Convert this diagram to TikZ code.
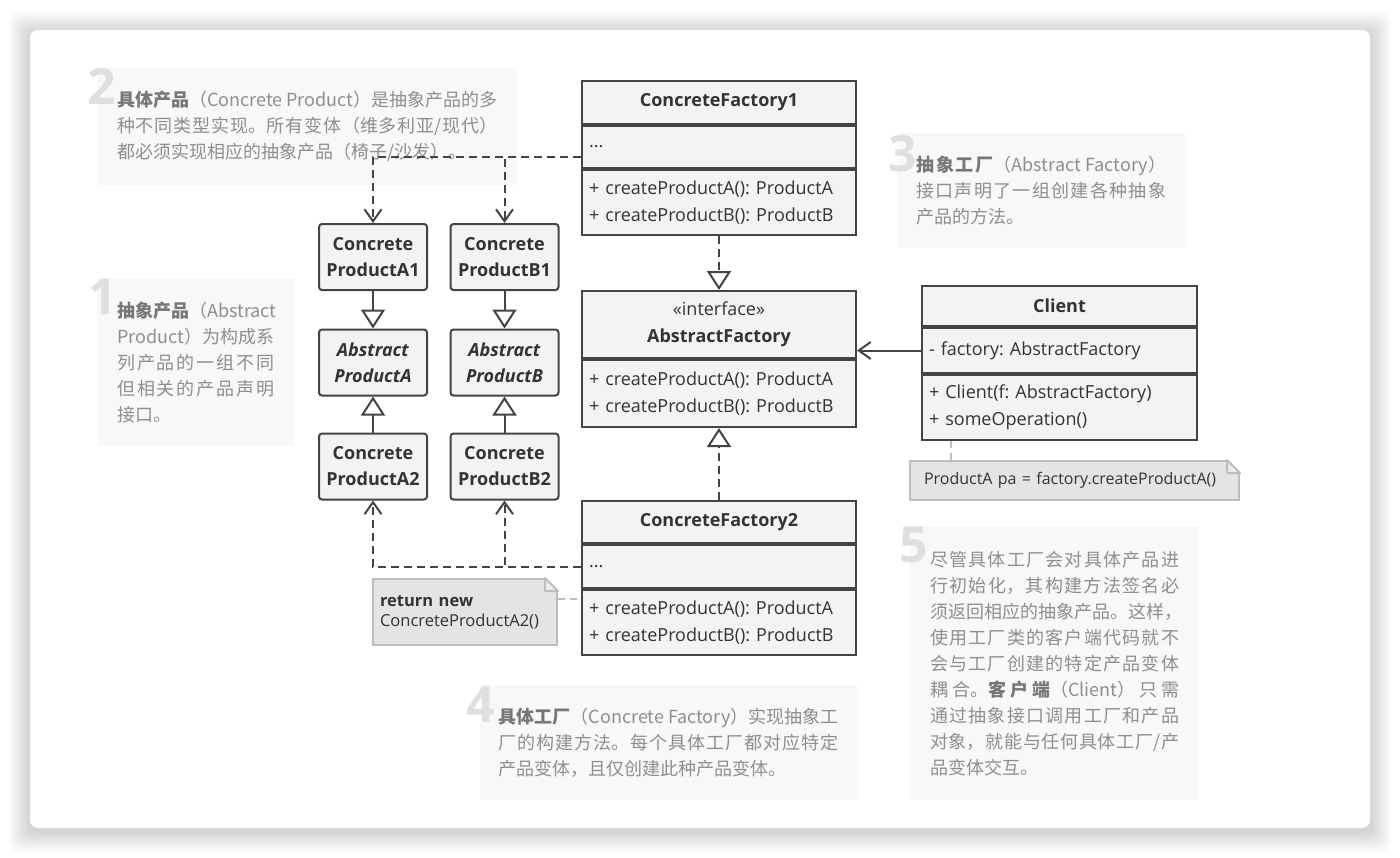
\documentclass[tikz,border=0pt]{standalone}
\usepackage{fontspec}
\setmainfont{Open Sans}
\newfontfamily\cjk{Noto Sans CJK SC}
\usetikzlibrary{positioning,arrows.meta}
\XeTeXlinebreaklocale "zh"
\XeTeXlinebreakskip=0pt plus 6pt
\XeTeXlinebreakpenalty=10000
\setlength{\parindent}{0pt}
\frenchspacing
\tolerance=10000 \hbadness=10000 \hfuzz=40pt \hyphenpenalty=10000
\definecolor{boxline}{HTML}{444444}
\definecolor{boxfill}{HTML}{F3F3F3}
\definecolor{boxtext}{HTML}{333333}
\definecolor{annofill}{HTML}{F8F8F8}
\definecolor{annotext}{HTML}{8E8E8E}
\definecolor{annolead}{HTML}{777777}
\definecolor{numgray}{HTML}{DFDFDF}
\definecolor{notefill}{HTML}{E4E4E4}
\definecolor{noteline}{HTML}{BDBDBD}
\tikzset{
  sec/.style={draw=boxline,fill=boxfill,line width=2pt,minimum width=274pt,text width=260pt,
    inner xsep=7pt,inner ysep=0pt,align=left,text=boxtext,font=\fontsize{18}{26.5}\selectfont},
  hdr/.style={sec,align=center,font=\fontsize{18}{27}\selectfont\bfseries},
  prod/.style={draw=boxline,fill=boxfill,line width=2pt,rounded corners=3pt,minimum width=108pt,
    minimum height=66pt,inner sep=0pt,align=center,text=boxtext,font=\fontsize{18}{26}\selectfont\bfseries},
  depend/.style={draw=boxline,line width=2pt,dash pattern=on 8pt off 5pt,-{Straight Barb[length=12pt,width=17pt]}},
  realize/.style={draw=boxline,line width=2pt,dash pattern=on 8pt off 5pt,-{Triangle[length=19pt,width=24pt,fill=white]}},
  inherit/.style={draw=boxline,line width=2pt,-{Triangle[length=19pt,width=24pt,fill=white]}},
  assoc/.style={draw=boxline,line width=2pt,-{Straight Barb[length=12pt,width=17pt]}},
  notelink/.style={draw=noteline,line width=2pt,dash pattern=on 7pt off 5pt},
  note/.style={anchor=north west,fill=notefill,draw=noteline,line width=2pt,align=left,inner ysep=0pt,
    text=boxtext,font=\fontsize{16.5}{20}\selectfont},
  notebox/.style={fill=notefill!70!white,draw=noteline,line width=2pt,line join=round},
  anno/.style={anchor=north west,fill=annofill,inner ysep=0pt,align=justify,text=annotext,
    font=\cjk\fontsize{18}{26}\selectfont},
  num/.style={anchor=north west,inner sep=0pt,text=numgray,font=\fontsize{50}{50}\selectfont\bfseries}
}
\newcommand{\lead}[1]{\textcolor{annolead}{\textbf{#1}}}
\newcommand{\fold}[1]{%
  \fill[white] ([xshift=-15pt,yshift=2pt]#1.north east) -- ([xshift=2pt,yshift=2pt]#1.north east)
    -- ([xshift=2pt,yshift=-15pt]#1.north east) -- cycle;
  \draw[notebox] ([xshift=-13pt]#1.north east) -- ([yshift=-13pt]#1.north east)
    -- ([xshift=-13pt,yshift=-13pt]#1.north east) -- cycle;}

\begin{document}
\begin{tikzpicture}[x=1pt,y=-1pt]
\useasboundingbox (0,0) rectangle (1400,857);
% ---- CARD ----
\fill[white] (0,0) rectangle (1400,857);
\foreach \i in {1,...,22}
  \fill[black,opacity=0.007,rounded corners=10pt] (30-\i,30-\i+3) rectangle (1370+\i,828+\i+3);
\fill[white,draw=black!6,rounded corners=8pt] (30,30) rectangle (1370,828);

% ---- ANNOTATIONS ----
\node[anno,text width=380pt,inner xsep=20pt,minimum height=117pt] (t2) at (97,68)
  {\lead{具体产品}（Concrete Product）是抽象产品的多\linebreak 种不同类型实现。所有变体（维多利亚/现代）\linebreak 都必须实现相应的抽象产品（椅子/沙发）。};
\node[anno,text width=157pt,inner xsep=20pt,minimum height=168pt] (t1) at (97,278)
  {\lead{抽象产品}（Abstract\linebreak Product）为构成系\linebreak 列产品的一组不同\linebreak 但相关的产品声明\linebreak 接口。};
\node[anno,text width=250pt,inner xsep=19pt,minimum height=115pt] (t3) at (897,133)
  {\lead{抽象工厂}（Abstract Factory）\linebreak 接口声明了一组创建各种抽象\linebreak 产品的方法。};
\node[anno,text width=340pt,inner xsep=18.5pt,minimum height=115pt] (t4) at (480,685)
  {\lead{具体工厂}（Concrete Factory）实现抽象工\linebreak 厂的构建方法。每个具体工厂都对应特定\linebreak 产品变体，且仅创建此种产品变体。};
\node[anno,text width=249pt,inner xsep=20pt,minimum height=274pt] (t5) at (910,526)
  {尽管具体工厂会对具体产品进\linebreak 行初始化，其构建方法签名必\linebreak 须返回相应的抽象产品。这样，\linebreak 使用工厂类的客户端代码就不\linebreak 会与工厂创建的特定产品变体\linebreak 耦合。\lead{客户端}（Client）只需\linebreak 通过抽象接口调用工厂和产品\linebreak 对象，就能与任何具体工厂/产\linebreak 品变体交互。};
\node[num] (n2) at (87,68) {2};
\node[num] (n1) at (88,279) {1};
\node[num] (n3) at (888,135) {3};
\node[num] (n4) at (466,687) {4};
\node[num] (n5) at (899,527) {5};

% ---- FACTORIES ----
\node[hdr,minimum height=43pt,anchor=north] (cf1) at (719,80) {ConcreteFactory1};
\node[sec,minimum height=42pt,below=0pt of cf1] (cf1a) {...};
\node[sec,minimum height=65pt,below=0pt of cf1a] (cf1o) {+ createProductA(): ProductA\\+ createProductB(): ProductB};

\node[hdr,minimum height=67pt,anchor=north] (af) at (719,290) {\textmd{«interface»}\\AbstractFactory};
\node[sec,minimum height=67pt,below=0pt of af] (afo) {+ createProductA(): ProductA\\+ createProductB(): ProductB};

\node[hdr,minimum height=42pt,anchor=north] (cf2) at (719,500) {ConcreteFactory2};
\node[sec,minimum height=43pt,below=0pt of cf2] (cf2a) {...};
\node[sec,minimum height=65pt,below=0pt of cf2a] (cf2o) {+ createProductA(): ProductA\\+ createProductB(): ProductB};

% ---- CLIENT ----
\node[hdr,minimum height=40pt,minimum width=275pt,text width=261pt,anchor=north] (cl) at (1059.5,285) {Client};
\node[sec,minimum height=45pt,minimum width=275pt,text width=261pt,below=0pt of cl] (cla) {- factory: AbstractFactory};
\node[sec,minimum height=65pt,minimum width=275pt,text width=261pt,below=0pt of cla] (clo) {+ Client(f: AbstractFactory)\\+ someOperation()};

% ---- PRODUCTS ----
\node[prod] (pa1) at (373,257) {Concrete\\ProductA1};
\node[prod] (pb1) at (504.5,257) {Concrete\\ProductB1};
\node[prod] (paa) at (373,362.5) {\textit{Abstract}\\\textit{ProductA}};
\node[prod] (pba) at (504.5,362.5) {\textit{Abstract}\\\textit{ProductB}};
\node[prod] (pa2) at (373,466.5) {Concrete\\ProductA2};
\node[prod] (pb2) at (504.5,466.5) {Concrete\\ProductB2};

% ---- NOTES ----
\node[note,text width=301pt,inner xsep=14pt,minimum height=39pt,font=\fontsize{16}{20}\selectfont] (nt1) at (909,460)
  {\mbox{ProductA pa = factory.createProductA()}};
\fold{nt1}
\node[note,text width=170pt,inner xsep=7pt,minimum height=66pt] (nt2) at (372,578) {\textbf{return new}\\ConcreteProductA2()};
\fold{nt2}

% ---- LINKS ----
\draw[depend] ([yshift=-10pt]cf1a.west) -| (pa1.north);
\draw[depend] ([yshift=-10pt]cf1a.west) -| (pb1.north);
\draw[depend] (cf2a.west) -| (pa2.south);
\draw[depend] (cf2a.west) -| (pb2.south);
\draw[inherit] (pa1) -- (paa);
\draw[inherit] (pb1) -- (pba);
\draw[inherit] (pa2) -- (paa);
\draw[inherit] (pb2) -- (pba);
\draw[realize] (cf1o) -- (af);
\draw[realize] (cf2) -- (afo);
\draw[assoc] (cla.west) -- (cla.west -| af.east);
\coordinate (clx) at ([xshift=30pt]clo.south west);
\draw[notelink] (clx) -- (clx |- nt1.north);
\coordinate (ntx) at ([yshift=13pt]nt2.east);
\draw[notelink] (ntx) -- (ntx -| cf2o.west);
\end{tikzpicture}
\end{document}
